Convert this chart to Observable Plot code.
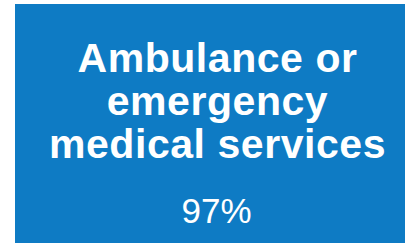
<!DOCTYPE html>
<html>
<head>
<meta charset="utf-8">
<script src="https://cdn.jsdelivr.net/npm/d3@7"></script>
<script src="https://cdn.jsdelivr.net/npm/@observablehq/plot@0.6"></script>
<style>
  html, body { margin: 0; padding: 0; background: #ffffff; }
  svg { display: block; }
  .title-text text { letter-spacing: 0.55px; }
</style>
</head>
<body>
<div id="chart"></div>
<script>
const categories = ["Ambulance or\nemergency\nmedical services"];
const values = [97];
const tileColor = "#0e7bc4";

const data = categories.map((c, i) => ({category: c, value: values[i]}));

const chart = Plot.plot({
  width: 405,
  height: 243,
  marginLeft: 15,
  marginRight: 0,
  marginTop: 4,
  marginBottom: 0,
  x: {type: "band", domain: categories, axis: null, padding: 0},
  y: {type: "band", domain: categories, axis: null, padding: 0},
  style: {fontFamily: "'Liberation Sans', Arial, sans-serif", background: "#ffffff"},
  marks: [
    Plot.cell(data, {x: "category", y: "category", fill: tileColor, inset: 0}),
    Plot.text(data, {
      x: "category",
      frameAnchor: "top",
      lineAnchor: "top",
      text: "category",
      dx: 7,
      dy: 36.4,
      fontSize: 41,
      fontWeight: "bold",
      lineHeight: 1.055,
      fill: "white",
      className: "title-text"
    }),
    Plot.text(data, {
      x: "category",
      frameAnchor: "bottom",
      lineAnchor: "bottom",
      text: d => `${d.value}%`,
      dx: 6,
      dy: -21,
      fontSize: 35,
      fill: "white"
    })
  ]
});
document.getElementById("chart").append(chart);
</script>
</body>
</html>
